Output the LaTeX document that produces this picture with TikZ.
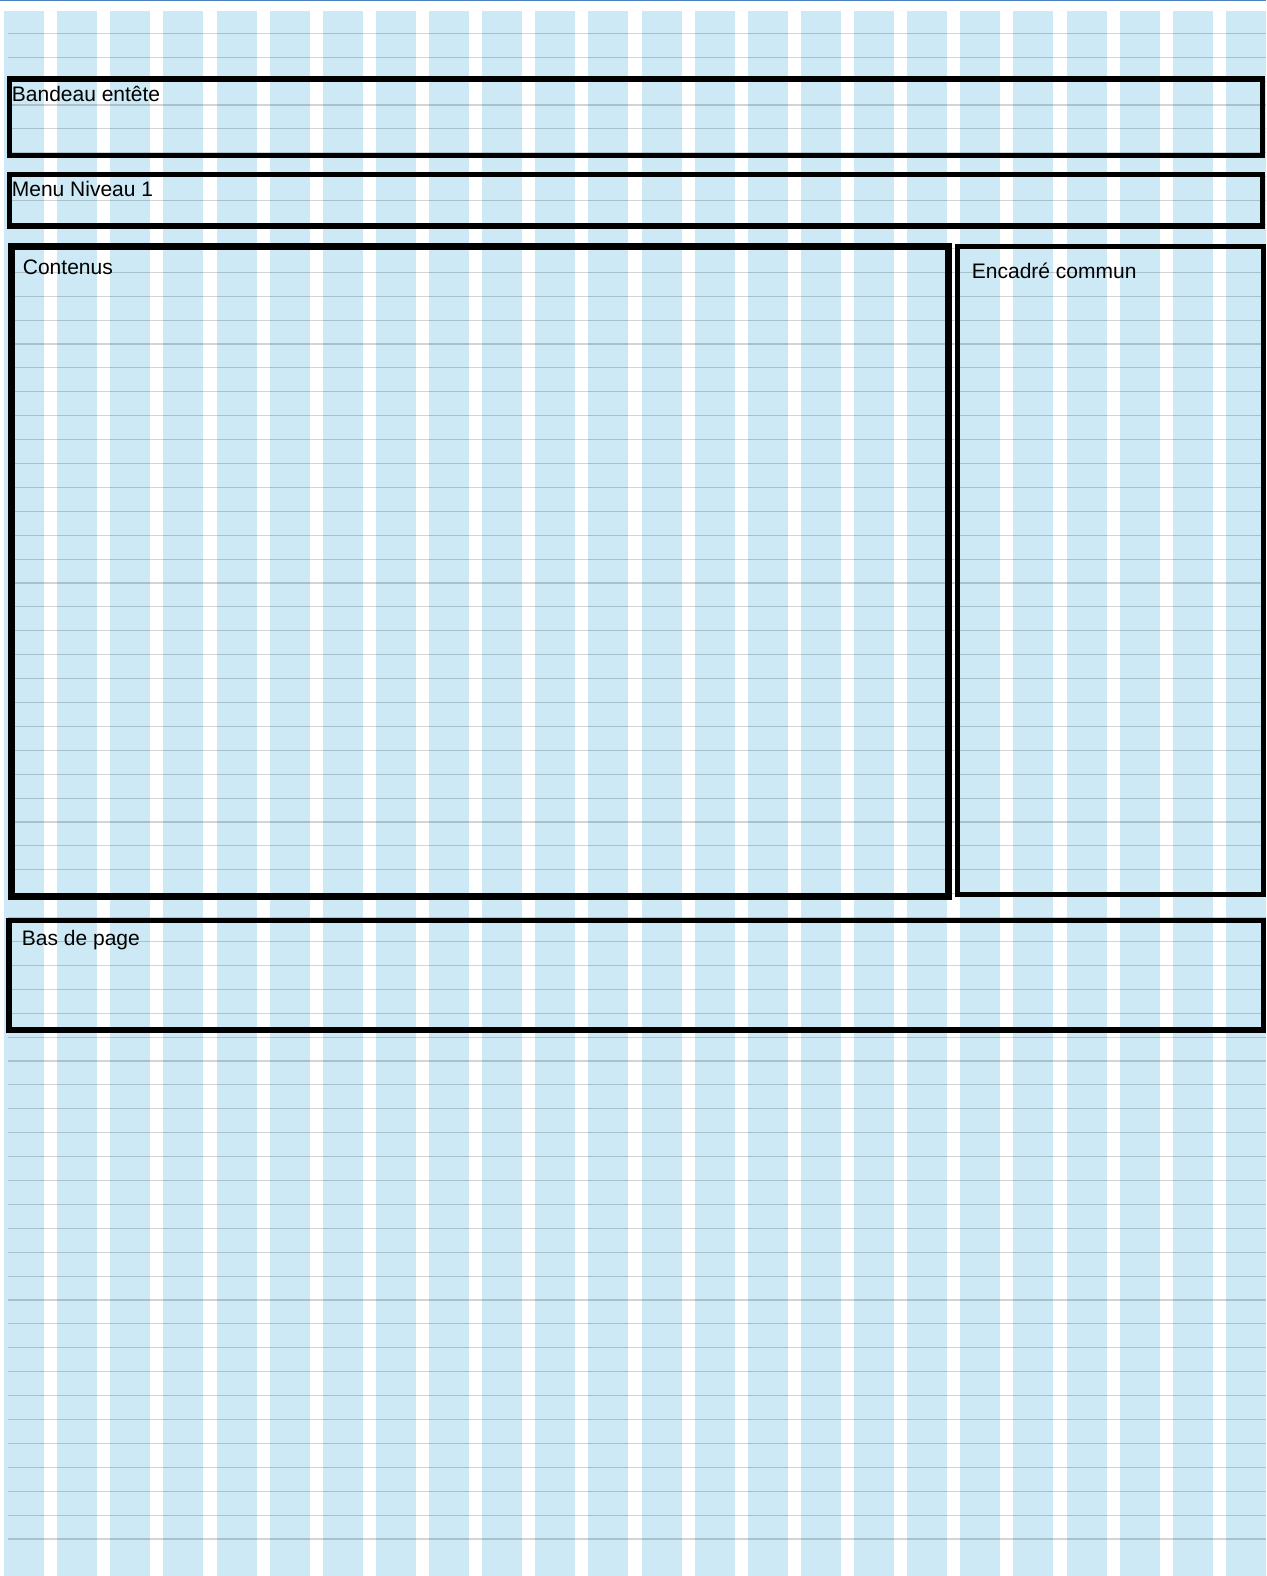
\documentclass[tikz,border=0pt]{standalone}
\usepackage{fontspec}
\setmainfont{Liberation Sans}
\usetikzlibrary{positioning}

\definecolor{bleucol}{RGB}{205,233,245}
\definecolor{bleufil}{RGB}{74,128,192}

\tikzset{
  colonne/.style={fill=bleucol},
  ligne/.style={draw=black,draw opacity=0.17,line width=1.1pt},
  zone/.style={draw=black,line width=5.5pt},
  titre/.style={anchor=base west,inner sep=0pt,font=\fontsize{21}{25}\selectfont}
}

\begin{document}
\begin{tikzpicture}[x=1pt,y=-1pt]
  \useasboundingbox (0,0) rectangle (1266,1576);

  % filet en haut
  \draw[bleufil,line width=1.5pt] (0,0.75) -- (1266,0.75);

  % colonnes de la grille
  \foreach \i in {0,...,23}
    \fill[colonne] ({4+53.13*\i},11) rectangle ++(40,1565);

  % lignes de base
  \foreach \k in {0,...,63}
    \draw[ligne] (8,{33.3+23.9*\k}) -- (1266,{33.3+23.9*\k});

  % zones
  \draw[zone] (9.3,78.8) rectangle (1262.5,155.5);
  \draw[zone] (9.3,174.5) rectangle (1262.5,226.2);
  \draw[zone,line width=7pt] (11.2,246.7) rectangle (948.7,896);
  \draw[zone,line width=5pt] (957.5,246) rectangle (1263.5,894.5);
  \draw[zone] (8.8,920.3) rectangle (1263.5,1030);

  % etiquettes
  \node[titre] (bandeau) at (11.7,102) {Bandeau entête};
  \node[titre] (menu) at (11.7,196) {Menu Niveau 1};
  \node[titre] (contenus) at (22.7,274.3) {Contenus};
  \node[titre] (encadre) at (971.7,278.3) {Encadré commun};
  \node[titre] (bas) at (21.7,945) {Bas de page};
\end{tikzpicture}
\end{document}
